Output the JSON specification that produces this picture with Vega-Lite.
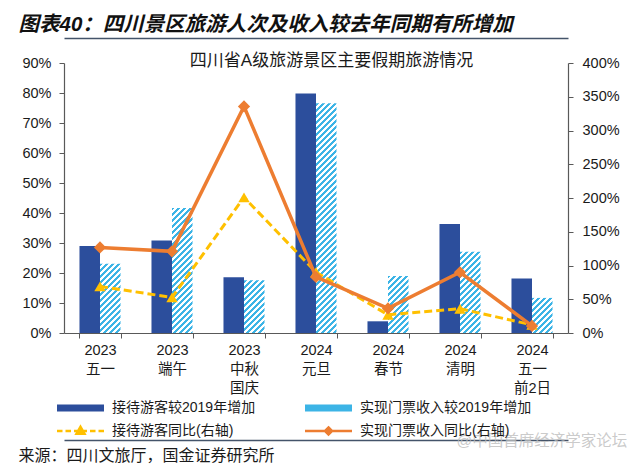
{
  "$schema": "https://vega.github.io/schema/vega-lite/v6.json",
  "autosize": {"type": "none"},
  "width": 504,
  "height": 270,
  "padding": {"left": 64, "top": 63, "right": 72, "bottom": 135},
  "background": "white",
  "config": {"font": "Liberation Sans, Noto Sans CJK SC", "view": {"stroke": null}},
  "data": {"values": [
    {"cat": "2023 五一", "series": "接待游客较2019年增加", "value": 0.29},
    {"cat": "2023 端午", "series": "接待游客较2019年增加", "value": 0.308},
    {"cat": "2023 中秋 国庆", "series": "接待游客较2019年增加", "value": 0.186},
    {"cat": "2024 元旦", "series": "接待游客较2019年增加", "value": 0.798},
    {"cat": "2024 春节", "series": "接待游客较2019年增加", "value": 0.039},
    {"cat": "2024 清明", "series": "接待游客较2019年增加", "value": 0.363},
    {"cat": "2024 五一 前2日", "series": "接待游客较2019年增加", "value": 0.182},
    {"cat": "2023 五一", "series": "实现门票收入较2019年增加", "value": 0.231},
    {"cat": "2023 端午", "series": "实现门票收入较2019年增加", "value": 0.417},
    {"cat": "2023 中秋 国庆", "series": "实现门票收入较2019年增加", "value": 0.176},
    {"cat": "2024 元旦", "series": "实现门票收入较2019年增加", "value": 0.766},
    {"cat": "2024 春节", "series": "实现门票收入较2019年增加", "value": 0.19},
    {"cat": "2024 清明", "series": "实现门票收入较2019年增加", "value": 0.271},
    {"cat": "2024 五一 前2日", "series": "实现门票收入较2019年增加", "value": 0.117},
    {"cat": "2023 五一", "series": "接待游客同比(右轴)", "value": 0.69},
    {"cat": "2023 端午", "series": "接待游客同比(右轴)", "value": 0.527},
    {"cat": "2023 中秋 国庆", "series": "接待游客同比(右轴)", "value": 2.01},
    {"cat": "2024 元旦", "series": "接待游客同比(右轴)", "value": 0.9},
    {"cat": "2024 春节", "series": "接待游客同比(右轴)", "value": 0.27},
    {"cat": "2024 清明", "series": "接待游客同比(右轴)", "value": 0.36},
    {"cat": "2024 五一 前2日", "series": "接待游客同比(右轴)", "value": 0.12},
    {"cat": "2023 五一", "series": "实现门票收入同比(右轴)", "value": 1.268},
    {"cat": "2023 端午", "series": "实现门票收入同比(右轴)", "value": 1.21},
    {"cat": "2023 中秋 国庆", "series": "实现门票收入同比(右轴)", "value": 3.357},
    {"cat": "2024 元旦", "series": "实现门票收入同比(右轴)", "value": 0.83},
    {"cat": "2024 春节", "series": "实现门票收入同比(右轴)", "value": 0.364},
    {"cat": "2024 清明", "series": "实现门票收入同比(右轴)", "value": 0.9},
    {"cat": "2024 五一 前2日", "series": "实现门票收入同比(右轴)", "value": 0.105}
  ]},
  "layer": [
    {
      "transform": [{"filter": "datum.series=='接待游客较2019年增加'"}],
      "mark": {"type": "bar"},
      "encoding": {
        "x": {"field": "cat", "type": "nominal",
          "scale": {"type": "band", "domain": ["2023 五一", "2023 端午", "2023 中秋 国庆", "2024 元旦", "2024 春节", "2024 清明", "2024 五一 前2日"], "paddingInner": 0.43, "paddingOuter": 0.215},
          "axis": {"orient": "bottom", "labelExpr": "split(datum.label,' ')", "labelAngle": 0, "labelFontSize": 14.5, "labelColor": "#1a1a1a", "labelPadding": 5, "labelLineHeight": 19, "tickBand": "extent", "tickSize": 5, "tickColor": "#595959", "domainColor": "#595959", "domainWidth": 1.2,
            "title": "来源：四川文旅厅，国金证券研究所", "titleX": -46, "titleY": 122, "titleAlign": "left", "titleBaseline": "middle", "titleFontSize": 16, "titleFontWeight": "normal", "titleColor": "#1a1a1a"}},
        "xOffset": {"field": "series", "scale": {"domain": ["接待游客较2019年增加", "实现门票收入较2019年增加"], "paddingInner": 0, "paddingOuter": 0}},
        "y": {"field": "value", "type": "quantitative", "stack": null,
          "scale": {"domain": [0, 0.9], "nice": false},
          "axis": {"orient": "left", "values": [0, 0.1, 0.2, 0.3, 0.4, 0.5, 0.6, 0.7, 0.8, 0.9], "format": ".0%", "title": null, "grid": false, "labelFontSize": 14.5, "labelColor": "#1a1a1a", "labelPadding": 8, "tickSize": 5, "tickColor": "#595959", "domainColor": "#595959", "domainWidth": 1.2}},
        "color": {"field": "series", "type": "nominal",
          "scale": {"domain": ["接待游客较2019年增加", "实现门票收入较2019年增加", "接待游客同比(右轴)", "实现门票收入同比(右轴)"], "range": ["#2c4e9c", "#3cb4e6", "#ffc000", "#ed7d31"]},
          "legend": {"orient": "none", "legendX": -9, "legendY": 338, "direction": "horizontal", "columns": 2, "columnPadding": 44, "rowPadding": 6, "title": null, "labelFontSize": 14, "labelColor": "#1a1a1a", "labelLimit": 400, "symbolType": "M-1,-0.7L8.4,-0.7L8.4,0.7L-1,0.7Z", "symbolSize": 100, "symbolStrokeWidth": 0, "labelOffset": 43,
            "encode": {"symbols": {"update": {
              "shape": {"signal": "datum.value=='接待游客同比(右轴)'?'M-1,0L0.1,0M0.7,0L1.8,0M2.4,0L5,0M5.6,0L6.7,0M7.3,0L8.4,0M3.7,-0.85L4.5,0.55L2.9,0.55Z':datum.value=='实现门票收入同比(右轴)'?'M-1,0L8.4,0M3.7,-0.7L4.4,0L3.7,0.7L3,0Z':'M-1,-0.7L8.4,-0.7L8.4,0.7L-1,0.7Z'"},
              "fill": {"signal": "datum.value=='实现门票收入较2019年增加'?{gradient:'linear',x1:0,y1:0,x2:1.248,y2:0.186,stops:[{offset:0,color:'#3cb4e6'},{offset:.05,color:'#3cb4e6'},{offset:.05,color:'#fff'},{offset:.1,color:'#fff'},{offset:.1,color:'#3cb4e6'},{offset:.15,color:'#3cb4e6'},{offset:.15,color:'#fff'},{offset:.2,color:'#fff'},{offset:.2,color:'#3cb4e6'},{offset:.25,color:'#3cb4e6'},{offset:.25,color:'#fff'},{offset:.3,color:'#fff'},{offset:.3,color:'#3cb4e6'},{offset:.35,color:'#3cb4e6'},{offset:.35,color:'#fff'},{offset:.4,color:'#fff'},{offset:.4,color:'#3cb4e6'},{offset:.45,color:'#3cb4e6'},{offset:.45,color:'#fff'},{offset:.5,color:'#fff'},{offset:.5,color:'#3cb4e6'},{offset:.55,color:'#3cb4e6'},{offset:.55,color:'#fff'},{offset:.6,color:'#fff'},{offset:.6,color:'#3cb4e6'},{offset:.65,color:'#3cb4e6'},{offset:.65,color:'#fff'},{offset:.7,color:'#fff'},{offset:.7,color:'#3cb4e6'},{offset:.75,color:'#3cb4e6'},{offset:.75,color:'#fff'},{offset:.8,color:'#fff'},{offset:.8,color:'#3cb4e6'},{offset:.85,color:'#3cb4e6'},{offset:.85,color:'#fff'},{offset:.9,color:'#fff'},{offset:.9,color:'#3cb4e6'},{offset:.95,color:'#3cb4e6'},{offset:.95,color:'#fff'},{offset:1,color:'#fff'}]}:datum.value=='接待游客较2019年增加'?'#2c4e9c':datum.value=='接待游客同比(右轴)'?'#ffc000':'#ed7d31'"},
              "stroke": {"signal": "datum.value=='接待游客同比(右轴)'?'#ffc000':datum.value=='实现门票收入同比(右轴)'?'#ed7d31':'transparent'"},
              "strokeWidth": {"signal": "datum.value=='接待游客同比(右轴)'||datum.value=='实现门票收入同比(右轴)'?2.5:0"}
            }}}}}
      }
    },
    {
      "transform": [{"filter": "datum.series=='实现门票收入较2019年增加'"}],
      "mark": {"type": "bar", "fill": {"expr": "{gradient:'linear',x1:0,y1:0,x2:6152/(421+90000*datum.value*datum.value),y2:89943*datum.value/(421+90000*datum.value*datum.value),stops:[{offset:0,color:'#3cb4e6'},{offset:.01,color:'#3cb4e6'},{offset:.01,color:'#fff'},{offset:.02,color:'#fff'},{offset:.02,color:'#3cb4e6'},{offset:.03,color:'#3cb4e6'},{offset:.03,color:'#fff'},{offset:.04,color:'#fff'},{offset:.04,color:'#3cb4e6'},{offset:.05,color:'#3cb4e6'},{offset:.05,color:'#fff'},{offset:.06,color:'#fff'},{offset:.06,color:'#3cb4e6'},{offset:.07,color:'#3cb4e6'},{offset:.07,color:'#fff'},{offset:.08,color:'#fff'},{offset:.08,color:'#3cb4e6'},{offset:.09,color:'#3cb4e6'},{offset:.09,color:'#fff'},{offset:.1,color:'#fff'},{offset:.1,color:'#3cb4e6'},{offset:.11,color:'#3cb4e6'},{offset:.11,color:'#fff'},{offset:.12,color:'#fff'},{offset:.12,color:'#3cb4e6'},{offset:.13,color:'#3cb4e6'},{offset:.13,color:'#fff'},{offset:.14,color:'#fff'},{offset:.14,color:'#3cb4e6'},{offset:.15,color:'#3cb4e6'},{offset:.15,color:'#fff'},{offset:.16,color:'#fff'},{offset:.16,color:'#3cb4e6'},{offset:.17,color:'#3cb4e6'},{offset:.17,color:'#fff'},{offset:.18,color:'#fff'},{offset:.18,color:'#3cb4e6'},{offset:.19,color:'#3cb4e6'},{offset:.19,color:'#fff'},{offset:.2,color:'#fff'},{offset:.2,color:'#3cb4e6'},{offset:.21,color:'#3cb4e6'},{offset:.21,color:'#fff'},{offset:.22,color:'#fff'},{offset:.22,color:'#3cb4e6'},{offset:.23,color:'#3cb4e6'},{offset:.23,color:'#fff'},{offset:.24,color:'#fff'},{offset:.24,color:'#3cb4e6'},{offset:.25,color:'#3cb4e6'},{offset:.25,color:'#fff'},{offset:.26,color:'#fff'},{offset:.26,color:'#3cb4e6'},{offset:.27,color:'#3cb4e6'},{offset:.27,color:'#fff'},{offset:.28,color:'#fff'},{offset:.28,color:'#3cb4e6'},{offset:.29,color:'#3cb4e6'},{offset:.29,color:'#fff'},{offset:.3,color:'#fff'},{offset:.3,color:'#3cb4e6'},{offset:.31,color:'#3cb4e6'},{offset:.31,color:'#fff'},{offset:.32,color:'#fff'},{offset:.32,color:'#3cb4e6'},{offset:.33,color:'#3cb4e6'},{offset:.33,color:'#fff'},{offset:.34,color:'#fff'},{offset:.34,color:'#3cb4e6'},{offset:.35,color:'#3cb4e6'},{offset:.35,color:'#fff'},{offset:.36,color:'#fff'},{offset:.36,color:'#3cb4e6'},{offset:.37,color:'#3cb4e6'},{offset:.37,color:'#fff'},{offset:.38,color:'#fff'},{offset:.38,color:'#3cb4e6'},{offset:.39,color:'#3cb4e6'},{offset:.39,color:'#fff'},{offset:.4,color:'#fff'},{offset:.4,color:'#3cb4e6'},{offset:.41,color:'#3cb4e6'},{offset:.41,color:'#fff'},{offset:.42,color:'#fff'},{offset:.42,color:'#3cb4e6'},{offset:.43,color:'#3cb4e6'},{offset:.43,color:'#fff'},{offset:.44,color:'#fff'},{offset:.44,color:'#3cb4e6'},{offset:.45,color:'#3cb4e6'},{offset:.45,color:'#fff'},{offset:.46,color:'#fff'},{offset:.46,color:'#3cb4e6'},{offset:.47,color:'#3cb4e6'},{offset:.47,color:'#fff'},{offset:.48,color:'#fff'},{offset:.48,color:'#3cb4e6'},{offset:.49,color:'#3cb4e6'},{offset:.49,color:'#fff'},{offset:.5,color:'#fff'},{offset:.5,color:'#3cb4e6'},{offset:.51,color:'#3cb4e6'},{offset:.51,color:'#fff'},{offset:.52,color:'#fff'},{offset:.52,color:'#3cb4e6'},{offset:.53,color:'#3cb4e6'},{offset:.53,color:'#fff'},{offset:.54,color:'#fff'},{offset:.54,color:'#3cb4e6'},{offset:.55,color:'#3cb4e6'},{offset:.55,color:'#fff'},{offset:.56,color:'#fff'},{offset:.56,color:'#3cb4e6'},{offset:.57,color:'#3cb4e6'},{offset:.57,color:'#fff'},{offset:.58,color:'#fff'},{offset:.58,color:'#3cb4e6'},{offset:.59,color:'#3cb4e6'},{offset:.59,color:'#fff'},{offset:.6,color:'#fff'},{offset:.6,color:'#3cb4e6'},{offset:.61,color:'#3cb4e6'},{offset:.61,color:'#fff'},{offset:.62,color:'#fff'},{offset:.62,color:'#3cb4e6'},{offset:.63,color:'#3cb4e6'},{offset:.63,color:'#fff'},{offset:.64,color:'#fff'},{offset:.64,color:'#3cb4e6'},{offset:.65,color:'#3cb4e6'},{offset:.65,color:'#fff'},{offset:.66,color:'#fff'},{offset:.66,color:'#3cb4e6'},{offset:.67,color:'#3cb4e6'},{offset:.67,color:'#fff'},{offset:.68,color:'#fff'},{offset:.68,color:'#3cb4e6'},{offset:.69,color:'#3cb4e6'},{offset:.69,color:'#fff'},{offset:.7,color:'#fff'},{offset:.7,color:'#3cb4e6'},{offset:.71,color:'#3cb4e6'},{offset:.71,color:'#fff'},{offset:.72,color:'#fff'},{offset:.72,color:'#3cb4e6'},{offset:.73,color:'#3cb4e6'},{offset:.73,color:'#fff'},{offset:.74,color:'#fff'},{offset:.74,color:'#3cb4e6'},{offset:.75,color:'#3cb4e6'},{offset:.75,color:'#fff'},{offset:.76,color:'#fff'},{offset:.76,color:'#3cb4e6'},{offset:.77,color:'#3cb4e6'},{offset:.77,color:'#fff'},{offset:.78,color:'#fff'},{offset:.78,color:'#3cb4e6'},{offset:.79,color:'#3cb4e6'},{offset:.79,color:'#fff'},{offset:.8,color:'#fff'},{offset:.8,color:'#3cb4e6'},{offset:.81,color:'#3cb4e6'},{offset:.81,color:'#fff'},{offset:.82,color:'#fff'},{offset:.82,color:'#3cb4e6'},{offset:.83,color:'#3cb4e6'},{offset:.83,color:'#fff'},{offset:.84,color:'#fff'},{offset:.84,color:'#3cb4e6'},{offset:.85,color:'#3cb4e6'},{offset:.85,color:'#fff'},{offset:.86,color:'#fff'},{offset:.86,color:'#3cb4e6'},{offset:.87,color:'#3cb4e6'},{offset:.87,color:'#fff'},{offset:.88,color:'#fff'},{offset:.88,color:'#3cb4e6'},{offset:.89,color:'#3cb4e6'},{offset:.89,color:'#fff'},{offset:.9,color:'#fff'}]}"}},
      "encoding": {
        "x": {"field": "cat", "type": "nominal",
          "scale": {"type": "band", "domain": ["2023 五一", "2023 端午", "2023 中秋 国庆", "2024 元旦", "2024 春节", "2024 清明", "2024 五一 前2日"], "paddingInner": 0.43, "paddingOuter": 0.215},
          "axis": {"orient": "top", "domain": false, "ticks": false, "labels": false, "title": "四川省A级旅游景区主要假期旅游情况", "titleX": 267, "titleY": -3, "titleAlign": "center", "titleBaseline": "middle", "titleAngle": 0, "titleFontSize": 17, "titleFontWeight": "normal", "titleColor": "#1a1a1a"}},
        "xOffset": {"field": "series", "scale": {"domain": ["接待游客较2019年增加", "实现门票收入较2019年增加"], "paddingInner": 0, "paddingOuter": 0}},
        "y": {"field": "value", "type": "quantitative", "stack": null, "scale": {"domain": [0, 0.9], "nice": false}, "axis": null}
      }
    },
    {
      "transform": [{"filter": "datum.series=='接待游客同比(右轴)'"}],
      "mark": {"type": "line", "strokeWidth": 3, "strokeDash": [8, 4]},
      "encoding": {
        "x": {"field": "cat", "type": "nominal",
          "scale": {"type": "band", "domain": ["2023 五一", "2023 端午", "2023 中秋 国庆", "2024 元旦", "2024 春节", "2024 清明", "2024 五一 前2日"], "paddingInner": 0.43, "paddingOuter": 0.215},
          "axis": {"orient": "top", "offset": 25, "domain": true, "domainColor": "#44546a", "domainWidth": 1.5, "ticks": false, "labels": false, "title": "图表40：四川景区旅游人次及收入较去年同期有所增加", "titleX": -46, "titleY": -8, "titleAlign": "left", "titleBaseline": "alphabetic", "titleAngle": 0, "titleFontSize": 20.5, "titleFontWeight": "bold", "titleFontStyle": "italic", "titleColor": "#111111"}},
        "y": {"field": "value", "type": "quantitative", "scale": {"domain": [0, 4], "nice": false},
          "axis": {"orient": "right", "values": [0, 0.5, 1, 1.5, 2, 2.5, 3, 3.5, 4], "format": ".0%", "title": null, "grid": false, "labelFontSize": 14.5, "labelColor": "#1a1a1a", "labelPadding": 9, "tickSize": 5, "tickColor": "#595959", "domainColor": "#595959", "domainWidth": 1.2}},
        "color": {"field": "series", "type": "nominal", "scale": {"domain": ["接待游客较2019年增加", "实现门票收入较2019年增加", "接待游客同比(右轴)", "实现门票收入同比(右轴)"], "range": ["#2c4e9c", "#3cb4e6", "#ffc000", "#ed7d31"]}}
      }
    },
    {
      "transform": [{"filter": "datum.series=='接待游客同比(右轴)'"}],
      "mark": {"type": "point", "filled": true, "shape": "triangle-up", "size": 130, "opacity": 1},
      "encoding": {
        "x": {"field": "cat", "type": "nominal",
          "scale": {"type": "band", "domain": ["2023 五一", "2023 端午", "2023 中秋 国庆", "2024 元旦", "2024 春节", "2024 清明", "2024 五一 前2日"], "paddingInner": 0.43, "paddingOuter": 0.215},
          "axis": {"orient": "bottom", "offset": 107, "domain": true, "domainColor": "#44546a", "domainWidth": 1.5, "ticks": false, "labels": false, "title": "@中国首席经济学家论坛", "titleX": 392, "titleY": 0, "titleAlign": "left", "titleBaseline": "middle", "titleFontSize": 15.5, "titleFontWeight": "normal", "titleColor": "#bdbdbd", "titleOpacity": 0.8}},
        "y": {"field": "value", "type": "quantitative", "scale": {"domain": [0, 4], "nice": false}, "axis": null},
        "color": {"field": "series", "type": "nominal", "scale": {"domain": ["接待游客较2019年增加", "实现门票收入较2019年增加", "接待游客同比(右轴)", "实现门票收入同比(右轴)"], "range": ["#2c4e9c", "#3cb4e6", "#ffc000", "#ed7d31"]}}
      }
    },
    {
      "transform": [{"filter": "datum.series=='实现门票收入同比(右轴)'"}],
      "mark": {"type": "line", "strokeWidth": 3.5},
      "encoding": {
        "x": {"field": "cat", "type": "nominal",
          "scale": {"type": "band", "domain": ["2023 五一", "2023 端午", "2023 中秋 国庆", "2024 元旦", "2024 春节", "2024 清明", "2024 五一 前2日"], "paddingInner": 0.43, "paddingOuter": 0.215},
          "axis": null},
        "y": {"field": "value", "type": "quantitative", "scale": {"domain": [0, 4], "nice": false}, "axis": null},
        "color": {"field": "series", "type": "nominal", "scale": {"domain": ["接待游客较2019年增加", "实现门票收入较2019年增加", "接待游客同比(右轴)", "实现门票收入同比(右轴)"], "range": ["#2c4e9c", "#3cb4e6", "#ffc000", "#ed7d31"]}}
      }
    },
    {
      "transform": [{"filter": "datum.series=='实现门票收入同比(右轴)'"}],
      "mark": {"type": "point", "filled": true, "shape": "diamond", "size": 150, "opacity": 1},
      "encoding": {
        "x": {"field": "cat", "type": "nominal",
          "scale": {"type": "band", "domain": ["2023 五一", "2023 端午", "2023 中秋 国庆", "2024 元旦", "2024 春节", "2024 清明", "2024 五一 前2日"], "paddingInner": 0.43, "paddingOuter": 0.215},
          "axis": null},
        "y": {"field": "value", "type": "quantitative", "scale": {"domain": [0, 4], "nice": false}, "axis": null},
        "color": {"field": "series", "type": "nominal", "scale": {"domain": ["接待游客较2019年增加", "实现门票收入较2019年增加", "接待游客同比(右轴)", "实现门票收入同比(右轴)"], "range": ["#2c4e9c", "#3cb4e6", "#ffc000", "#ed7d31"]}}
      }
    }
  ],
  "resolve": {"scale": {"y": "independent"}, "axis": {"x": "independent", "y": "independent"}}
}
